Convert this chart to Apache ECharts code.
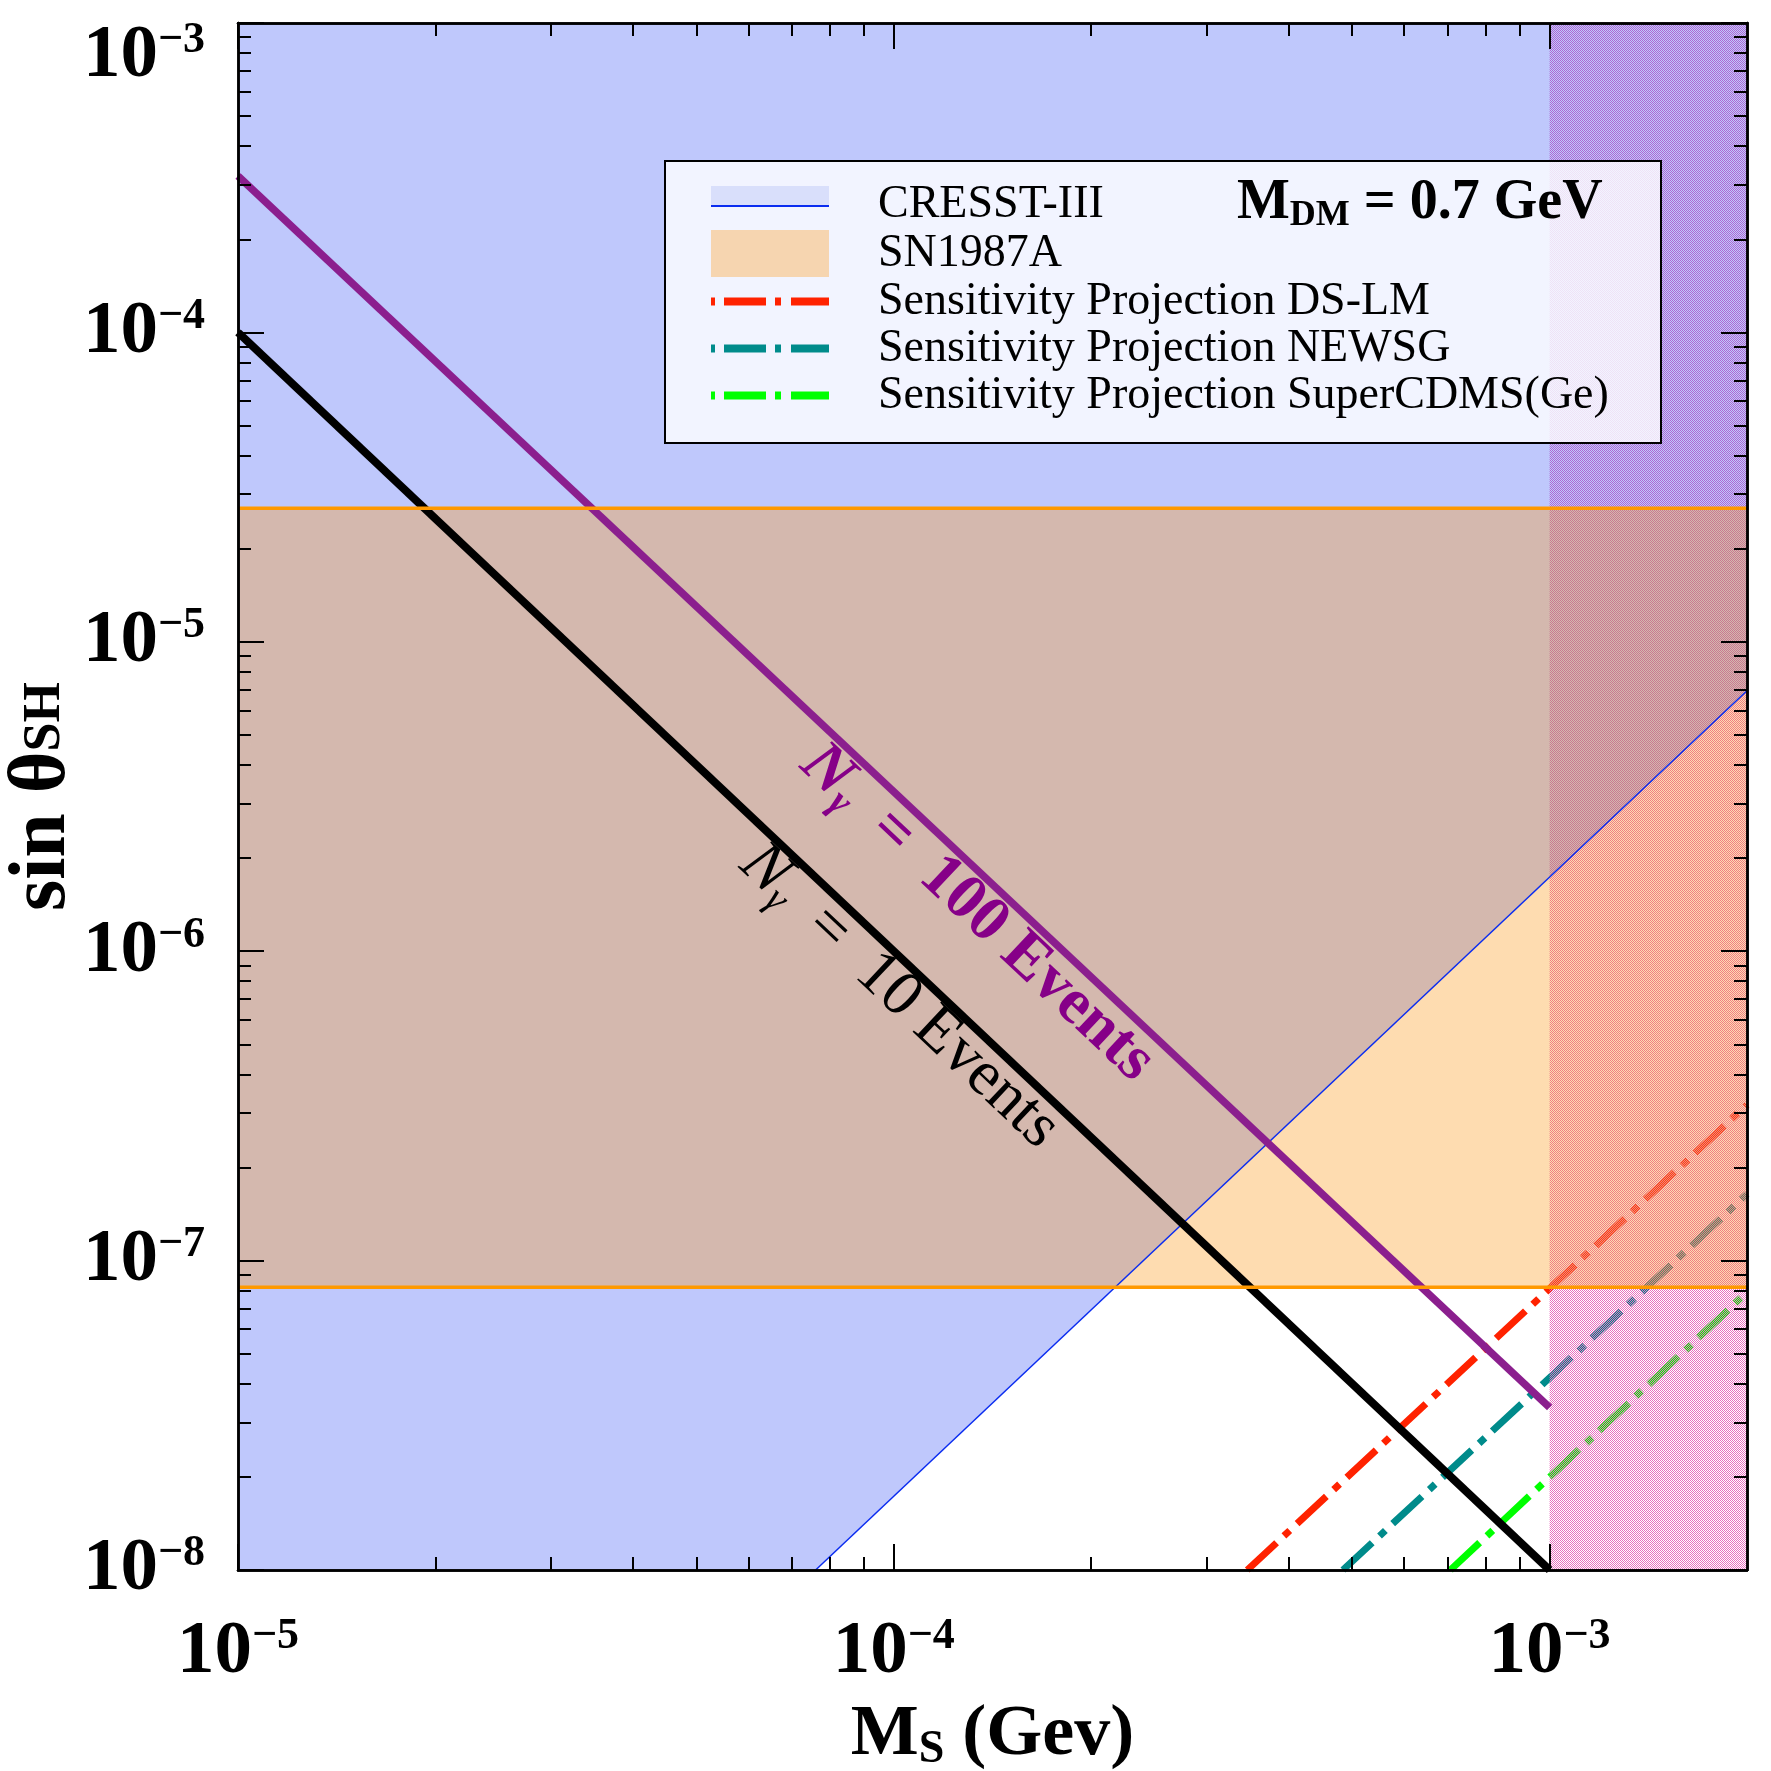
<!DOCTYPE html>
<html>
<head>
<meta charset="utf-8">
<title>sin θSH vs MS</title>
<script src="https://cdn.jsdelivr.net/npm/echarts@6/dist/echarts.min.js"></script>
<style>
html,body{margin:0;padding:0;background:#ffffff;}
#chart{width:1771px;height:1771px;}
</style>
</head>
<body>
<div id="chart"></div>
<script>
// ---------------- axis ranges and ticks ----------------
const xRange = [1e-5, 2e-3];
const yRange = [1e-8, 1e-3];
const xMajorTicks = [1e-5, 1e-4, 1e-3];
const xMinorTicks = [2e-5, 3e-5, 4e-5, 5e-5, 6e-5, 7e-5, 8e-5, 9e-5,
                     2e-4, 3e-4, 4e-4, 5e-4, 6e-4, 7e-4, 8e-4, 9e-4];
const xTickExponents = ['−5', '−4', '−3'];
const yMajorTicks = [1e-8, 1e-7, 1e-6, 1e-5, 1e-4, 1e-3];
const yMinorTicks = [2e-8, 3e-8, 4e-8, 5e-8, 6e-8, 7e-8, 8e-8, 9e-8,
                     2e-7, 3e-7, 4e-7, 5e-7, 6e-7, 7e-7, 8e-7, 9e-7,
                     2e-6, 3e-6, 4e-6, 5e-6, 6e-6, 7e-6, 8e-6, 9e-6,
                     2e-5, 3e-5, 4e-5, 5e-5, 6e-5, 7e-5, 8e-5, 9e-5,
                     2e-4, 3e-4, 4e-4, 5e-4, 6e-4, 7e-4, 8e-4, 9e-4];
const yTickExponents = ['−8', '−7', '−6', '−5', '−4', '−3'];

// ---------------- series data ----------------
const seriesNames = ['CRESST-III', 'SN1987A', 'Sensitivity Projection DS-LM',
                     'Sensitivity Projection NEWSG', 'Sensitivity Projection SuperCDMS(Ge)'];
const cresstBoundary = [[7.6e-5, 1e-8], [2e-3, 6.95e-6]];
const sn1987aBand = [8.2e-8, 2.7e-5];          // lower, upper sin(theta)
const hatchedMs = [1e-3, 2e-3];                // hatched M_S range
const nGamma100 = [[1e-5, 3.2e-4], [1e-3, 3.35e-8]];
const nGamma10 = [[1e-5, 1e-4], [1e-3, 1e-8]];
const dsLM = [[3.46e-4, 1e-8], [2e-3, 3.19e-7]];
const newsG = [[4.84e-4, 1e-8], [2e-3, 1.64e-7]];
const superCDMS = [[7.06e-4, 1e-8], [2e-3, 7.9e-8]];
const nGamma100LabelAt = [1.34e-4, 1.33e-6];
const nGamma10LabelAt = [1.02e-4, 7.15e-7];
const mdmText = ['M', 'DM', ' = 0.7 GeV'];

// ---------------- styles ----------------
const SERIF = '"Liberation Serif","Times New Roman",serif';
const tickRich = {
  b: {fontFamily: SERIF, fontWeight: 'bold', fontSize: 75, lineHeight: 76, color: '#000'},
  s: {fontFamily: SERIF, fontWeight: 'bold', fontSize: 44, lineHeight: 44, verticalAlign: 'top', color: '#000'},
  sp: {fontFamily: SERIF, fontSize: 10, lineHeight: 68, color: '#000'}
};
function idxOf(list, v) {
  return list.findIndex(t => Math.abs(Math.log10(t) - Math.log10(v)) < 1e-6);
}
function fmtX(v) {
  const i = idxOf(xMajorTicks, v);
  return i < 0 ? '' : '{b|10}{s|' + xTickExponents[i] + '}';
}
function fmtY(v) {
  const i = idxOf(yMajorTicks, v);
  if (i < 0) return '';
  const t = '{b|10}{s|' + yTickExponents[i] + '}';
  // top label is pushed down to stay inside the picture
  return i === yMajorTicks.length - 1 ? '{sp| }\n' + t : t;
}

function axisCommon(range, ticks, len) {
  return {
    type: 'log', logBase: 10, min: range[0], max: range[1], silent: true, z: 50,
    axisLine: {show: true, onZero: false, lineStyle: {color: '#000', width: 2.5}},
    axisTick: {show: true, inside: true, length: len, customValues: ticks,
               lineStyle: {color: '#000', width: 2}},
    axisLabel: {show: false},
    splitLine: {show: false}, minorTick: {show: false}, minorSplitLine: {show: false}
  };
}

const xAxes = [
  Object.assign(axisCommon(xRange, xMajorTicks, 26), {
    position: 'bottom',
    axisLabel: {show: true, customValues: xMajorTicks, formatter: fmtX, margin: 45,
                fontFamily: SERIF, fontWeight: 'bold', fontSize: 75, rich: tickRich},
    name: '{m|M}{s|S}{m| (Gev)}', nameLocation: 'middle', nameGap: 127, nameMoveOverlap: false,
    nameTextStyle: {rich: {
      m: {fontFamily: SERIF, fontWeight: 'bold', fontSize: 72, lineHeight: 76, color: '#000'},
      s: {fontFamily: SERIF, fontWeight: 'bold', fontSize: 46, lineHeight: 46, verticalAlign: 'bottom', color: '#000'}
    }}
  }),
  Object.assign(axisCommon(xRange, xMinorTicks, 13), {position: 'bottom'}),
  Object.assign(axisCommon(xRange, xMajorTicks, 26), {position: 'top'}),
  Object.assign(axisCommon(xRange, xMinorTicks, 13), {position: 'top'})
];
const yAxes = [
  Object.assign(axisCommon(yRange, yMajorTicks, 26), {
    position: 'left',
    axisLabel: {show: true, customValues: yMajorTicks, formatter: fmtY, margin: 33,
                fontFamily: SERIF, fontWeight: 'bold', fontSize: 75, rich: tickRich},
    name: '{m|sin θ}{s|SH}', nameLocation: 'middle', nameRotate: 90, nameGap: 166, nameMoveOverlap: false,
    nameTextStyle: {rich: {
      m: {fontFamily: SERIF, fontWeight: 'bold', fontSize: 80, lineHeight: 58, color: '#000'},
      s: {fontFamily: SERIF, fontWeight: 'bold', fontSize: 52, lineHeight: 22, verticalAlign: 'bottom', color: '#000'}
    }}
  }),
  Object.assign(axisCommon(yRange, yMinorTicks, 13), {position: 'left'}),
  Object.assign(axisCommon(yRange, yMajorTicks, 26), {position: 'right'}),
  Object.assign(axisCommon(yRange, yMinorTicks, 13), {position: 'right'})
];

// checkered hatch pattern
function makeHatch() {
  const c = document.createElement('canvas');
  c.width = 2; c.height = 2;
  const ctx = c.getContext('2d');
  ctx.fillStyle = 'rgb(232,112,192)';
  ctx.fillRect(0, 0, 1, 1);
  ctx.fillRect(1, 1, 1, 1);
  return c;
}
const hatchPattern = {image: makeHatch(), repeat: 'repeat'};

function rectItem(fill) {
  return function (params, api) {
    const p1 = api.coord([api.value(0), api.value(3)]);
    const p2 = api.coord([api.value(1), api.value(2)]);
    return {type: 'rect',
            shape: {x: p1[0], y: p1[1], width: p2[0] - p1[0], height: p2[1] - p1[1]},
            style: {fill: fill}};
  };
}
function dashLine(name, data, color) {
  return {name: name, type: 'line', z: 1, data: data, symbol: 'none', showSymbol: false, silent: true,
          color: color, itemStyle: {color: color},
          lineStyle: {color: color, width: 7, type: [40, 10, 8, 10], cap: 'butt'}};
}
function annotation(pos, formatter, color, weight) {
  return {
    symbol: 'circle', symbolSize: 1, itemStyle: {color: 'rgba(0,0,0,0)'}, silent: true,
    label: {show: true, position: 'inside', rotate: -43.3, formatter: formatter, color: color,
      rich: {
        n: {fontFamily: SERIF, fontStyle: 'italic', fontWeight: weight, fontSize: 64, lineHeight: 70, color: color},
        g: {fontFamily: SERIF, fontStyle: 'italic', fontWeight: weight, fontSize: 40, lineHeight: 40, verticalAlign: 'bottom', color: color},
        t: {fontFamily: SERIF, fontWeight: weight, fontSize: 64, lineHeight: 70, color: color}
      }},
    data: [{coord: pos}]
  };
}

const legendText = {fontFamily: SERIF, fontSize: 46, color: '#000', lineHeight: 47, padding: [0, 0, 0, 44]};
// legend icons (filled shapes in a 118 x h box)
const iconCresst = 'path://M0,0H118V21H0Z M0,37L0.01,37Z';
const iconCresstEdge = 'path://M0,0H118V2H0Z';
const iconDash = 'path://M0,0H4V8H0Z M13,0H55V8H13Z M64,0H70V8H64Z M80,0H118V8H80Z';

const option = {
  animation: false,
  backgroundColor: '#ffffff',
  grid: {left: 238, right: 24, top: 23, bottom: 201, containLabel: false, outerBoundsMode: 'none'},
  xAxis: xAxes,
  yAxis: yAxes,
  legend: [
    {data: [{name: seriesNames[0], icon: iconCresst, itemStyle: {color: '#d9dffb'}}],
     left: 711, top: 181, itemWidth: 118, itemHeight: 37, padding: 0, selectedMode: false, z: 100,
     symbolKeepAspect: false, textStyle: legendText},
    {data: [{name: 'CRESST-III boundary', icon: iconCresstEdge}],
     left: 711, top: 205, itemWidth: 118, itemHeight: 2, padding: 0, selectedMode: false, z: 101,
     symbolKeepAspect: false, formatter: function () { return ''; },
     textStyle: {fontSize: 1, lineHeight: 2}},
    {data: [{name: seriesNames[1], icon: 'rect', itemStyle: {color: '#f6d5b0'}}],
     left: 711, top: 230, itemWidth: 118, itemHeight: 47, padding: 0, selectedMode: false, z: 100,
     textStyle: legendText},
    {data: [{name: seriesNames[2], icon: iconDash}, {name: seriesNames[3], icon: iconDash},
            {name: seriesNames[4], icon: iconDash}],
     orient: 'vertical', left: 711, top: 278, itemWidth: 118, itemHeight: 8, itemGap: 0, padding: 0,
     selectedMode: false, z: 100, symbolKeepAspect: false, textStyle: legendText}
  ],
  graphic: [
    {type: 'rect', z: 90, left: 664, top: 160, silent: true,
     shape: {width: 996, height: 282},
     style: {fill: 'rgba(255,255,255,0.8)', stroke: '#000', lineWidth: 2}},
    {type: 'text', z: 100, left: 1237, top: 176, silent: true,
     style: {text: '{a|' + mdmText[0] + '}{b|' + mdmText[1] + '}{a|' + mdmText[2] + '}',
       rich: {
         a: {fontFamily: SERIF, fontWeight: 'bold', fontSize: 56, lineHeight: 60, fill: '#000'},
         b: {fontFamily: SERIF, fontWeight: 'bold', fontSize: 36, lineHeight: 36, verticalAlign: 'bottom', fill: '#000'}
       }}}
  ],
  series: [
    dashLine(seriesNames[2], dsLM, '#ff2200'),
    dashLine(seriesNames[3], newsG, '#008b8b'),
    dashLine(seriesNames[4], superCDMS, '#00ff00'),
    {name: 'hatched', type: 'custom', z: 2, silent: true,
     data: [[hatchedMs[0], hatchedMs[1], yRange[0], yRange[1]]],
     renderItem: rectItem(hatchPattern)},
    {name: seriesNames[0], type: 'line', z: 3, silent: true, symbol: 'none', showSymbol: false,
     data: [[xRange[0], yRange[0]]].concat(cresstBoundary),
     color: '#d9dffb', itemStyle: {color: '#d9dffb'},
     lineStyle: {width: 0, opacity: 0},
     areaStyle: {color: 'rgba(62,89,245,0.33)', opacity: 1, origin: 'end'}},
    {name: seriesNames[1], type: 'custom', z: 4, silent: true, itemStyle: {color: '#f6d5b0'},
     data: [[xRange[0], xRange[1], sn1987aBand[0], sn1987aBand[1]]],
     renderItem: rectItem('rgba(252,152,23,0.34)')},
    {name: 'CRESST-III boundary', type: 'line', z: 5, silent: true, symbol: 'none', showSymbol: false,
     color: '#0a2cf0', itemStyle: {color: '#0a2cf0'},
     data: cresstBoundary, lineStyle: {color: '#0a2cf0', width: 1.5}},
    {name: 'N100', type: 'line', z: 5, silent: true, symbol: 'none', showSymbol: false,
     data: nGamma100, lineStyle: {color: '#8b1f8e', width: 7.5},
     markPoint: annotation(nGamma100LabelAt, '{n|N}{g|γ}{t|  =  100 Events}', '#860088', 'bold')},
    {name: 'N10', type: 'line', z: 5, silent: true, symbol: 'none', showSymbol: false,
     data: nGamma10, lineStyle: {color: '#000000', width: 8},
     markPoint: annotation(nGamma10LabelAt, '{n|N}{g|γ}{t|  =  10 Events}', '#000000', 'normal')},
    {name: 'SN1987A edges', type: 'custom', z: 6, silent: true,
     data: [[xRange[0], xRange[1], sn1987aBand[0], sn1987aBand[1]]],
     renderItem: function (params, api) {
       const a = api.coord([api.value(0), api.value(2)]);
       const b = api.coord([api.value(1), api.value(2)]);
       const c = api.coord([api.value(0), api.value(3)]);
       const d = api.coord([api.value(1), api.value(3)]);
       return {type: 'group', children: [
         {type: 'line', shape: {x1: a[0], y1: a[1], x2: b[0], y2: b[1]}, style: {stroke: '#ff9900', lineWidth: 3.5}},
         {type: 'line', shape: {x1: c[0], y1: c[1], x2: d[0], y2: d[1]}, style: {stroke: '#ff9900', lineWidth: 3.5}}
       ]};
     }}
  ]
};

const chart = echarts.init(document.getElementById('chart'), null, {renderer: 'canvas'});
chart.setOption(option);
</script>
</body>
</html>
